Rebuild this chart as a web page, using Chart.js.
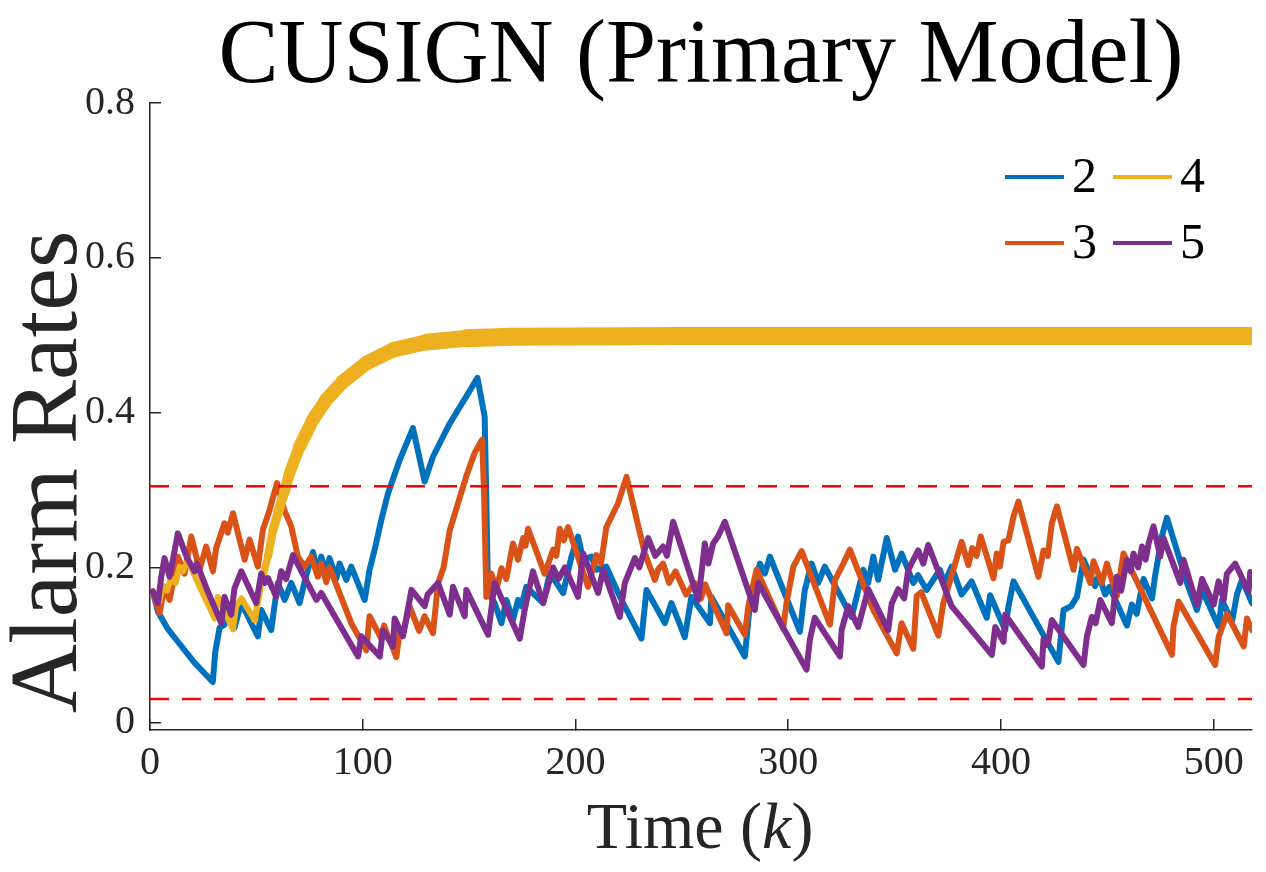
<!DOCTYPE html>
<html>
<head>
<meta charset="utf-8">
<title>CUSIGN (Primary Model)</title>
<script src="https://cdn.jsdelivr.net/npm/chart.js@4.4.1/dist/chart.umd.min.js"></script>
<style>
  html, body { margin: 0; padding: 0; background: #fff; }
  #wrap { width: 1266px; height: 872px; }
</style>
</head>
<body>
<div id="wrap"><canvas id="chart" width="1266" height="872"></canvas></div>
<script>
// values: [time k, alarm rate]
const series2 = [
  [1.3, 0.169], [3.7, 0.143], [8, 0.122], [13.1, 0.104], [20.9, 0.077], [29.5, 0.052],
  [30.7, 0.091], [32.7, 0.122], [35.0, 0.126], [36.6, 0.141], [39.7, 0.122], [42.9, 0.154],
  [50.7, 0.111], [52.3, 0.145], [57.0, 0.119], [58.5, 0.150], [60.1, 0.180], [63.3, 0.158],
  [66.4, 0.180], [70.3, 0.154], [73, 0.185], [76.6, 0.220], [78.9, 0.192], [80.5, 0.214],
  [82.9, 0.192], [84.4, 0.212], [87.6, 0.186], [89.1, 0.205], [92.3, 0.184], [94.6, 0.201],
  [100.9, 0.158], [103.2, 0.197], [105.6, 0.223], [108.7, 0.261], [111.9, 0.296], [117.4, 0.339],
  [123.6, 0.380], [129.1, 0.311], [133.0, 0.343], [140.9, 0.386], [148.7, 0.421], [153.9, 0.445],
  [157.3, 0.395], [158.1, 0.287], [158.9, 0.167], [162.0, 0.154], [165.2, 0.128], [167.5, 0.158],
  [170.6, 0.132], [173.0, 0.158], [174.5, 0.150], [176.9, 0.175], [184.8, 0.154], [187.9, 0.193],
  [191, 0.180], [194.2, 0.167], [198.1, 0.214], [201.2, 0.240], [203.6, 0.210], [207.5, 0.214],
  [209.8, 0.197], [214.5, 0.201], [221.6, 0.158], [231, 0.108], [233.4, 0.171], [242, 0.128],
  [245.1, 0.154], [251.4, 0.110], [254.5, 0.162], [263.2, 0.128], [263.9, 0.162], [279.6, 0.085],
  [282, 0.153], [286.7, 0.205], [289, 0.192], [291.4, 0.214], [305.5, 0.117], [307.8, 0.171],
  [311, 0.205], [314.1, 0.180], [317.2, 0.201], [329.8, 0.136], [335.3, 0.197], [337.6, 0.180],
  [340, 0.214], [342.3, 0.184], [346.3, 0.238], [350.2, 0.197], [353.3, 0.218], [358.8, 0.180],
  [361, 0.190], [365.1, 0.171], [371.3, 0.197], [373.5, 0.180], [376.8, 0.201], [381.5, 0.165],
  [386.2, 0.182], [393.3, 0.135], [394.9, 0.164], [402, 0.119], [403.5, 0.149], [405.9, 0.182],
  [427, 0.078], [429.4, 0.145], [433, 0.150], [435.7, 0.162], [438.8, 0.210], [444.3, 0.176],
  [446, 0.190], [449, 0.165], [451, 0.175], [459.2, 0.125], [461.5, 0.152], [463.8, 0.140],
  [467, 0.185], [471, 0.160], [472.5, 0.190], [475.6, 0.240], [478, 0.264], [487.4, 0.180],
  [492.1, 0.145], [494.5, 0.171], [502.3, 0.124], [503.9, 0.158], [508.6, 0.130], [511, 0.166],
  [513.3, 0.184], [518, 0.154]
];

const series3 = [
  [1.3, 0.169], [4.5, 0.141], [6.8, 0.175], [9.2, 0.158], [13.1, 0.214], [16.2, 0.192],
  [19.4, 0.240], [23.3, 0.197], [26.4, 0.227], [29.6, 0.195], [31.1, 0.225], [35, 0.257],
  [36.5, 0.245], [39, 0.270], [44.5, 0.210], [46.8, 0.236], [50.7, 0.201], [53.1, 0.249],
  [56.2, 0.274], [59.7, 0.309], [63, 0.275], [66.4, 0.253], [69.5, 0.214], [72.7, 0.201],
  [75.8, 0.214], [78.9, 0.188], [80.5, 0.205], [82.9, 0.181], [84.4, 0.200], [94.6, 0.128],
  [101.7, 0.093], [103.2, 0.137], [108.7, 0.108], [110, 0.125], [115.8, 0.084], [117.5, 0.120],
  [119, 0.115], [122, 0.150], [126.5, 0.118], [129.1, 0.137], [133, 0.115], [135.4, 0.180],
  [138, 0.200], [140.9, 0.248], [144.8, 0.283], [148.7, 0.318], [152.6, 0.348], [156.1, 0.365],
  [157, 0.300], [158.1, 0.162], [159, 0.165], [160.5, 0.192], [162.8, 0.171], [165.2, 0.199],
  [167.5, 0.185], [170.6, 0.231], [173, 0.210], [175.4, 0.238], [176.5, 0.228], [177.7, 0.250],
  [185.5, 0.192], [189.5, 0.223], [191, 0.215], [192.6, 0.250], [194.5, 0.235], [196.5, 0.252],
  [205.9, 0.175], [209.8, 0.216], [212, 0.205], [214.5, 0.252], [220, 0.283], [224, 0.317],
  [232.6, 0.218], [237.3, 0.184], [239, 0.198], [241.2, 0.205], [244, 0.180], [247, 0.195],
  [252, 0.165], [256, 0.180], [259, 0.160], [261, 0.178], [266, 0.145], [271, 0.115],
  [271.8, 0.151], [279.6, 0.113], [281.2, 0.149], [285.1, 0.197], [297.6, 0.121], [299.2, 0.154],
  [302.4, 0.201], [306.3, 0.221], [319.6, 0.126], [322, 0.184], [325.9, 0.205], [329, 0.223],
  [340, 0.145], [351, 0.089], [353.3, 0.128], [358.8, 0.095], [360.4, 0.163], [362.5, 0.168],
  [370.6, 0.112], [372.9, 0.154], [377.6, 0.197], [381.5, 0.233], [384.7, 0.203], [386.5, 0.225],
  [388.5, 0.215], [390.5, 0.240], [396.5, 0.186], [398, 0.218], [399.5, 0.201], [401.2, 0.233],
  [403.5, 0.235], [405.9, 0.266], [408.2, 0.285], [417.6, 0.188], [420, 0.222], [422, 0.215],
  [423.9, 0.257], [426.3, 0.279], [434.1, 0.197], [435.7, 0.224], [442, 0.180], [443.5, 0.208],
  [447.4, 0.180], [449.8, 0.205], [454.5, 0.163], [457.6, 0.218], [480.4, 0.087], [481.1, 0.124],
  [483.5, 0.156], [500.7, 0.074], [502.3, 0.110], [506.2, 0.140], [514.1, 0.098], [515.6, 0.134],
  [518, 0.119]
];

const series4 = [
  [1.3, 0.169], [4.5, 0.156], [6, 0.176], [8, 0.170], [10, 0.186], [12, 0.180],
  [13.9, 0.201], [15.5, 0.195], [17.8, 0.209], [24.1, 0.171], [30.4, 0.134], [31.9, 0.162],
  [39, 0.120], [40.5, 0.150], [43, 0.160], [49.2, 0.132], [52.3, 0.180], [55.4, 0.214],
  [57.8, 0.248], [60.1, 0.270], [63.2, 0.298], [65.6, 0.322], [70.3, 0.356], [76.6, 0.391],
  [82.9, 0.417], [90.7, 0.440], [101.7, 0.464], [114.2, 0.481], [129.9, 0.491], [148.7, 0.496],
  [170, 0.498], [250, 0.499], [518, 0.499]
];

const series5 = [
  [1.3, 0.169], [3.7, 0.154], [5.3, 0.188], [6.8, 0.212], [9.2, 0.188], [10.7, 0.209],
  [13.1, 0.244], [17, 0.215], [20.9, 0.195], [22, 0.205], [27, 0.170], [33.5, 0.128],
  [35, 0.162], [38.2, 0.139], [39.7, 0.173], [42.9, 0.195], [49.9, 0.154], [52.3, 0.192],
  [54, 0.180], [55.5, 0.186], [59.3, 0.162], [61.7, 0.195], [64, 0.185], [67.2, 0.216],
  [78.2, 0.158], [80.5, 0.167], [97.8, 0.085], [99.3, 0.111], [108, 0.085], [109.5, 0.119],
  [114.2, 0.098], [115, 0.134], [118.9, 0.111], [122.9, 0.171], [129.1, 0.150], [130.5, 0.165],
  [135.4, 0.180], [140.9, 0.139], [142.4, 0.175], [147.9, 0.137], [148.7, 0.171], [158.9, 0.113],
  [162, 0.180], [173.8, 0.108], [176.1, 0.145], [180, 0.195], [184.8, 0.154], [189.5, 0.200],
  [192, 0.185], [195, 0.200], [201.2, 0.162], [203.6, 0.218], [210.6, 0.167], [213, 0.197],
  [220.8, 0.136], [223.2, 0.180], [227.9, 0.212], [230, 0.200], [234.2, 0.238], [237.5, 0.215],
  [241.2, 0.227], [243, 0.215], [245.9, 0.259], [257.7, 0.158], [259.2, 0.192], [260.8, 0.231],
  [262.5, 0.205], [264.7, 0.231], [267, 0.240], [270.2, 0.259], [284.3, 0.145], [285.9, 0.180],
  [308.6, 0.068], [310.2, 0.107], [312.5, 0.135], [324.3, 0.085], [325.1, 0.119], [328.2, 0.150],
  [332.9, 0.123], [337.6, 0.172], [347, 0.119], [348.6, 0.153], [351.7, 0.172], [354.5, 0.160],
  [356.4, 0.197], [361.1, 0.222], [363.5, 0.205], [365.8, 0.229], [376.8, 0.150], [395.7, 0.087],
  [397.3, 0.123], [401.2, 0.104], [402, 0.139], [419.2, 0.072], [420, 0.107], [422, 0.100],
  [423.9, 0.132], [438.8, 0.074], [440.4, 0.111], [442.7, 0.136], [444.5, 0.128], [446.7, 0.158],
  [452.1, 0.128], [454.5, 0.188], [456.5, 0.170], [459.2, 0.210], [461, 0.195], [462.3, 0.218],
  [464.5, 0.200], [466.3, 0.227], [468, 0.210], [469.4, 0.231], [471.7, 0.253], [474.9, 0.214],
  [476.4, 0.238], [484.3, 0.180], [485.8, 0.210], [492.1, 0.152], [494.5, 0.185], [500, 0.152],
  [502.3, 0.182], [504.7, 0.158], [506.2, 0.192], [510.1, 0.205], [516.4, 0.169], [517.2, 0.194],
  [518, 0.186]
];

const seriesLabels = ['2', '3', '4', '5'];
const upperLimit = 0.305;
const lowerLimit = 0.03;
const xRange = [0, 518];
const yRange = [-0.01, 0.8];
const xTicks = [0, 100, 200, 300, 400, 500];
const yTicks = [0, 0.2, 0.4, 0.6, 0.8];
const yTickLabels = ['0', '0.2', '0.4', '0.6', '0.8'];

const colors = ['#0072BD', '#D95319', '#EDB120', '#7E2F8E'];
const serif = '"Liberation Serif", "DejaVu Serif", serif';
const ink = '#262626';
const lineWidth = 6;

function toPoints(rows) {
    return rows.map(r => ({ x: r[0], y: r[1] }));
}

// the yellow series flickers every step, which reads as a thick band in the original
function bandWidth(ctx) {
    const x = ctx.p0.parsed.x;
    if (x < 48) return lineWidth;
    const rise = Math.min(1, (x - 48) / 22);
    const grow = Math.min(1, Math.max(0, (x - 70) / 80));
    return lineWidth + 7 * rise + 5 * grow;
}

const lineSeries = [series2, series3, series4, series5].map((rows, i) => {
    const ds = {
        label: seriesLabels[i],
        data: toPoints(rows),
        borderColor: colors[i],
        borderWidth: lineWidth,
        borderJoinStyle: 'round',
        borderCapStyle: 'round',
        pointRadius: 0,
        tension: 0,
        order: 5 - i,
        segment: { borderWidth: i === 2 ? bandWidth : lineWidth },
    };
    return ds;
});

const limitLine = (value, order) => ({
    label: 'limit',
    data: [{ x: xRange[0], y: value }, { x: xRange[1], y: value }],
    borderColor: '#FF0000',
    borderWidth: 2.5,
    borderDash: [19, 13],
    pointRadius: 0,
    order: order,
    segment: { borderWidth: 2.5 },
});

// axis labels and the two-column legend, drawn the way MATLAB places them
const annotations = {
    id: 'annotations',
    afterDraw(chart) {
        const { ctx } = chart;
        ctx.save();
        ctx.fillStyle = ink;
        ctx.textBaseline = 'alphabetic';

        ctx.save();
        ctx.font = '96px ' + serif;
        ctx.translate(76, 472);
        ctx.rotate(-Math.PI / 2);
        ctx.textAlign = 'center';
        ctx.fillText('Alarm Rates', 0, 0);
        ctx.restore();

        const normal = '66px ' + serif;
        const italic = 'italic 66px ' + serif;
        const parts = [['Time (', normal], ['k', italic], [')', normal]];
        let total = 0;
        parts.forEach(p => { ctx.font = p[1]; total += ctx.measureText(p[0]).width; });
        let x = 700 - total / 2;
        ctx.textAlign = 'left';
        parts.forEach(p => {
            ctx.font = p[1];
            ctx.fillText(p[0], x, 848);
            x += ctx.measureText(p[0]).width;
        });

        // legend: 2 4 / 3 5
        const slots = [[1005, 177], [1005, 243], [1113, 177], [1113, 243]];
        ctx.font = '50px ' + serif;
        ctx.fillStyle = '#000';
        lineSeries.forEach((ds, i) => {
            const [lx, ly] = slots[i];
            ctx.strokeStyle = ds.borderColor;
            ctx.lineWidth = 4;
            ctx.beginPath();
            ctx.moveTo(lx, ly);
            ctx.lineTo(lx + 59, ly);
            ctx.stroke();
            ctx.fillText(ds.label, lx + 67, ly + 15);
        });
        ctx.restore();
    }
};

new Chart(document.getElementById('chart'), {
    type: 'line',
    data: {
        datasets: [...lineSeries, limitLine(upperLimit, 0), limitLine(lowerLimit, 1)],
    },
    options: {
        responsive: false,
        devicePixelRatio: 1,
        animation: false,
        elements: { line: { borderWidth: lineWidth } },
        layout: { padding: { left: 0, right: 14, top: 0, bottom: 0 } },
        plugins: {
            legend: { display: false },
            tooltip: { enabled: false },
            title: {
                display: true,
                fullSize: false,
                text: 'CUSIGN (Primary Model)',
                color: '#000',
                font: { family: serif, size: 90, weight: 'normal', lineHeight: 1 },
                padding: { top: 13, bottom: 0 },
            },
        },
        scales: {
            x: {
                type: 'linear',
                min: xRange[0],
                max: xRange[1],
                afterFit: scale => { scale.height = 142; },
                afterBuildTicks: scale => { scale.ticks = xTicks.map(v => ({ value: v })); },
                ticks: {
                    color: ink,
                    font: { family: serif, size: 40 },
                    padding: 20,
                    maxRotation: 0,
                    callback: v => String(v),
                },
                grid: { drawOnChartArea: false, drawTicks: true, tickLength: -11, color: ink, lineWidth: 1.5 },
                border: { display: true, color: ink, width: 1.5 },
            },
            y: {
                type: 'linear',
                min: yRange[0],
                max: yRange[1],
                afterFit: scale => { scale.width = 150; },
                afterBuildTicks: scale => { scale.ticks = yTicks.map(v => ({ value: v })); },
                ticks: {
                    color: ink,
                    font: { family: serif, size: 40 },
                    padding: 26,
                    callback: (v, i) => yTickLabels[i],
                },
                grid: { drawOnChartArea: false, drawTicks: true, tickLength: -11, color: ink, lineWidth: 1.5 },
                border: { display: true, color: ink, width: 1.5 },
            },
        },
    },
    plugins: [annotations],
});
</script>
</body>
</html>
